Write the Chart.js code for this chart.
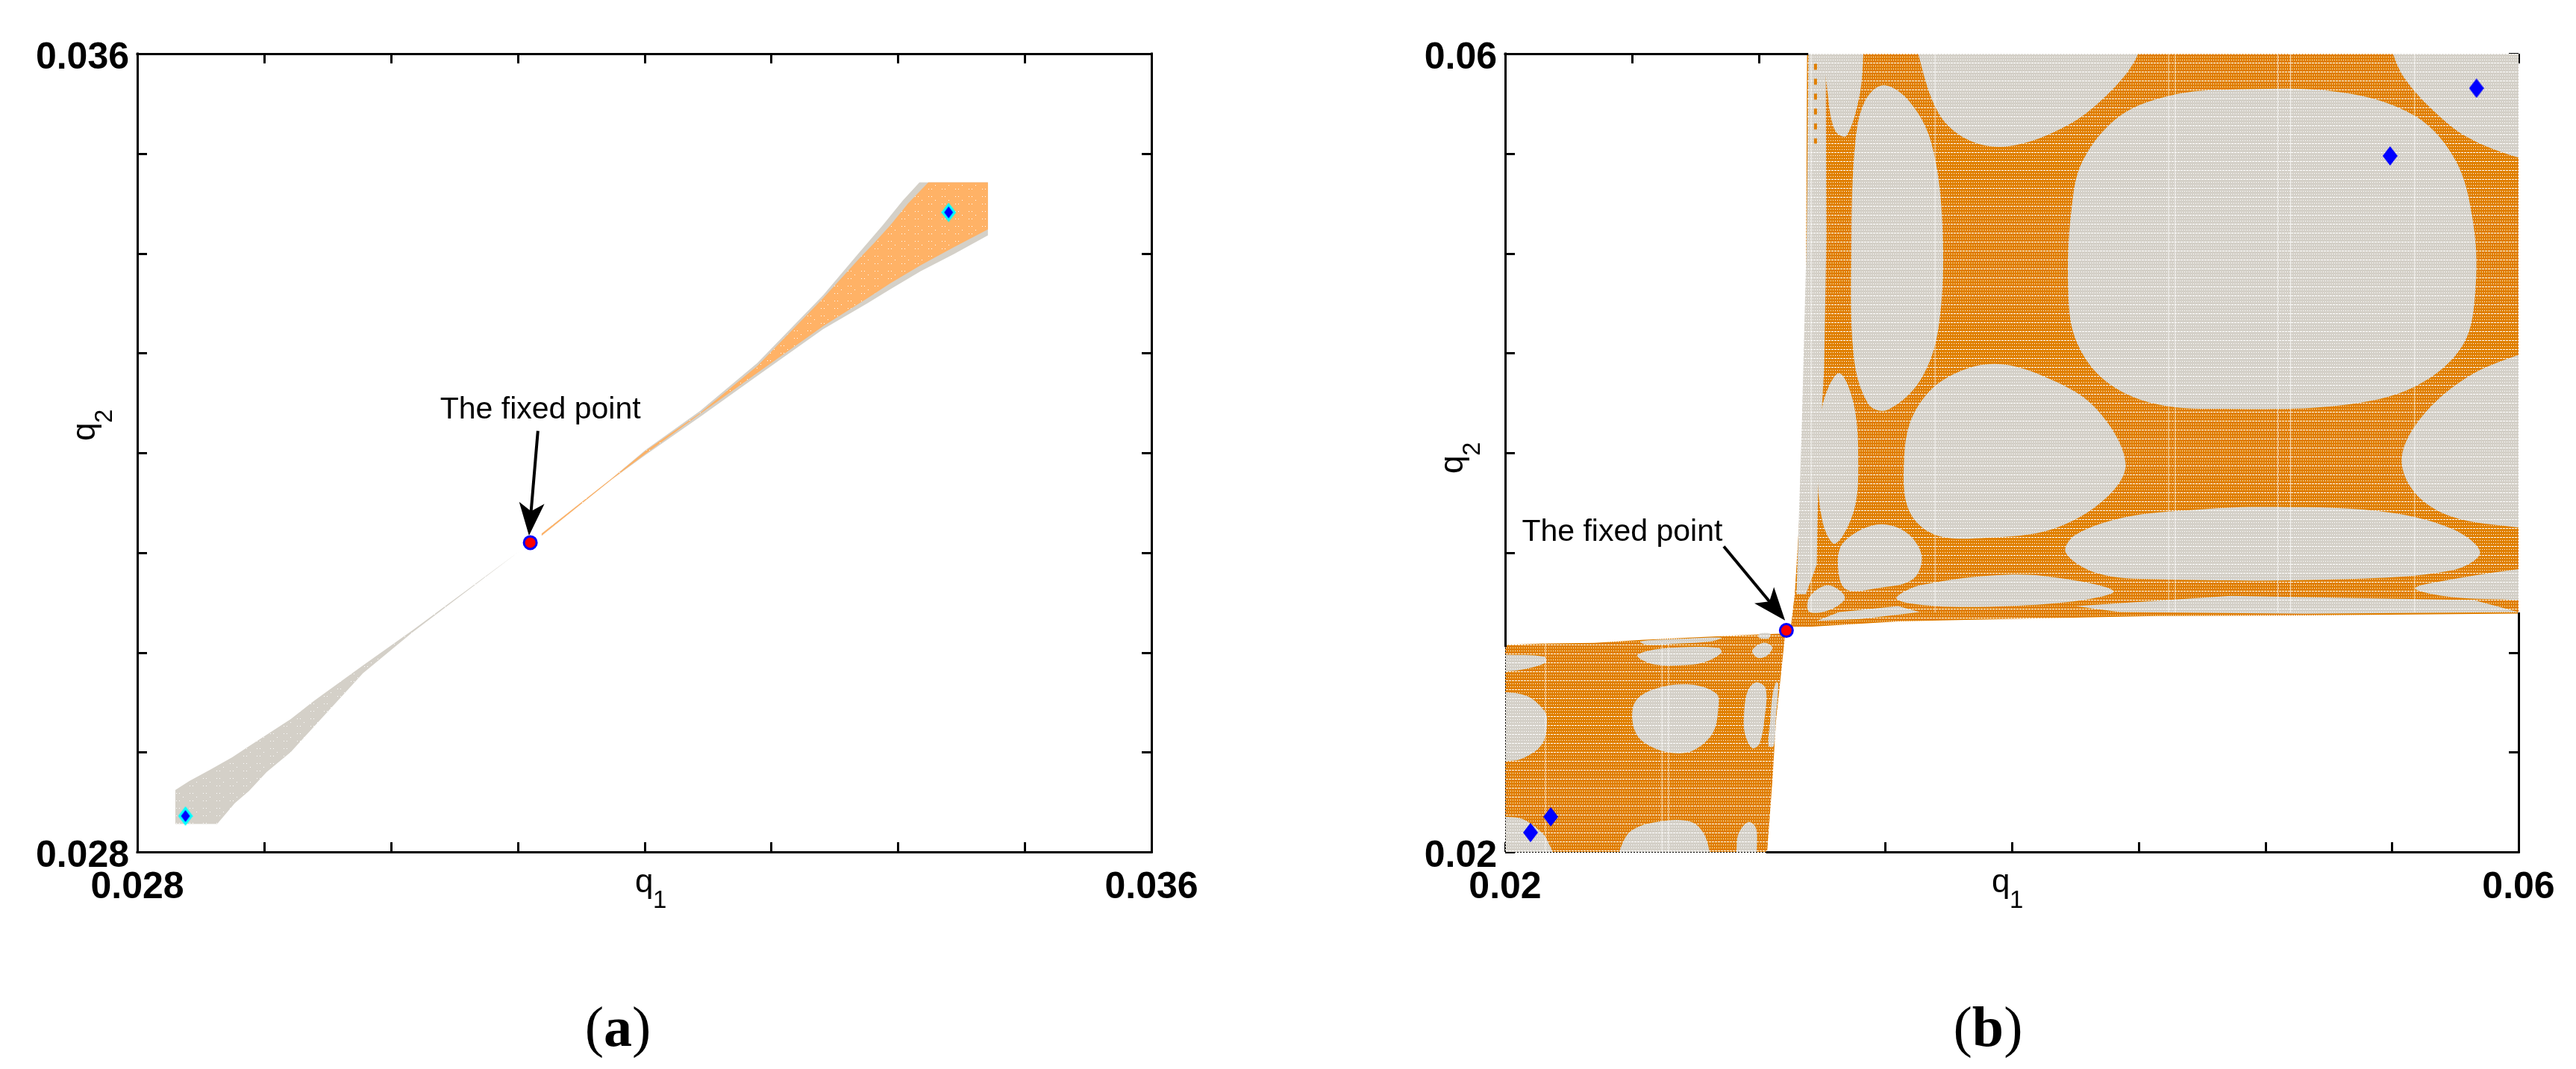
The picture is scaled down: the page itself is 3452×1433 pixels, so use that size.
<!DOCTYPE html>
<html>
<head>
<meta charset="utf-8">
<script src="https://cdn.jsdelivr.net/npm/chart.js@4"></script>
<style>
  html, body { margin: 0; padding: 0; background: #fff; overflow: hidden; }
  canvas { position: absolute; top: 0; }
</style>
</head>
<body>
<canvas id="panelA" width="1726" height="1433" style="left:0"></canvas>
<canvas id="panelB" width="1726" height="1433" style="left:1726px"></canvas>
<script>
// all q values are in units of 1e-3, so 31.1 means q = 0.0311

// panel (a)
const aTicks = ['0.028', '0.036'];
const aGrayWedge = [[28.30,28.62],[28.41,28.71],[28.57,28.82],[28.75,28.95],[28.87,29.05],[29.21,29.33],[29.39,29.51],[29.78,29.87],[30.17,30.22],[31.01,31.01],[30.17,30.20],[29.78,29.79],[29.39,29.25],[29.21,29.00],[29.02,28.80],[28.88,28.61],[28.77,28.49],[28.63,28.28],[28.30,28.28]];
const aGrayEdge = [[31.19,31.19],[31.74,31.74],[32.01,32.03],[32.44,32.42],[32.89,32.90],[33.41,33.58],[33.69,34.00],[33.88,34.28],[34.04,34.53],[34.17,34.71],[34.71,34.71],[34.71,34.18],[34.44,33.99],[34.18,33.82],[33.94,33.64],[33.76,33.50],[33.41,33.24],[32.89,32.77],[32.44,32.36],[32.01,31.98],[31.74,31.73],[31.19,31.17]];
const aOrangeWedge = [[31.19,31.19],[31.74,31.74],[32.01,32.02],[32.44,32.40],[32.89,32.87],[33.41,33.55],[33.69,33.94],[33.81,34.10],[33.94,34.28],[34.08,34.50],[34.24,34.71],[34.71,34.71],[34.71,34.24],[34.44,34.06],[34.18,33.88],[33.94,33.70],[33.76,33.55],[33.41,33.27],[32.89,32.80],[32.44,32.39],[32.01,31.99],[31.74,31.73],[31.19,31.17]];
const aFixedPoint = [[31.10,31.10]];
const aDiamonds = [[34.40,34.41],[28.38,28.36]];
const aArrow = { from: [31.16,32.22], to: [31.09,31.17] };
const aNote = [31.18,32.45];

// panel (b)
const bTicks = ['0.02', '0.06'];
const bUpperRegion = [[31.92,61],[61,61],[61,31.94],[60,31.94],[51.55,31.85],[45.71,31.82],[39.88,31.67],[35.51,31.55],[32.01,31.28],[31.28,31.28],[31.43,32.92],[31.72,38.87],[31.87,47.80]];
const bLowerRegion = [[19,19],[30.34,19],[30.34,20],[30.55,23.59],[30.69,26.55],[30.90,29.06],[31.05,30.90],[30.78,30.93],[29.13,30.85],[25.39,30.63],[23.53,30.48],[21.41,30.44],[19,30.33]];
const bCenterBlob = [[48.63,58.21],[53.00,58.07],[55.92,56.88],[57.52,54.64],[58.19,51.67],[58.31,48.39],[57.81,45.42],[55.92,43.33],[53.00,42.38],[48.63,42.20],[45.71,42.44],[43.67,43.63],[42.51,45.71],[42.22,48.39],[42.36,52.26],[42.80,54.64],[44.26,56.88],[46.30,57.92]];
const bTopBlob = [[36.00,62],[45.30,62],[44.99,60],[43.97,58.21],[42.22,56.43],[39.88,55.36],[38.28,55.68],[37.11,57.02],[36.30,60]];
const bCornerBlob = [[54.80,61],[55.04,60],[55.48,58.81],[56.50,57.32],[57.96,55.83],[60,54.79],[62,54.20],[62,62]];
const bRightBlob = [[62,45.60],[60,44.91],[57.96,43.78],[56.21,41.85],[55.39,39.76],[55.92,37.98],[57.38,36.79],[60,36.25],[62,36.00],[64,40]];
const bMiddleBlob = [[39.30,44.46],[41.63,43.63],[43.38,42.14],[44.49,39.46],[43.67,37.68],[41.63,36.19],[39.01,35.74],[36.97,35.89],[35.95,37.08],[35.74,39.46],[36.09,41.85],[37.26,43.63]];
const bTallBlob = [[34.93,58.42],[35.95,57.62],[36.82,55.54],[37.26,51.37],[37.11,46.31],[36.38,43.63],[35.07,42.14],[34.34,42.44],[33.76,44.82],[33.67,50.77],[33.82,55.54],[34.20,57.62]];
const bNarrowTop = [[32.60,62],[34.20,62],[34.14,60],[33.99,57.92],[33.47,55.89],[33.03,56.13],[32.74,57.92]];
const bNarrowBlob = [[33.18,43.99],[33.76,42.44],[33.94,39.46],[33.76,37.08],[33.03,35.45],[32.54,36.49],[32.33,39.46],[32.54,42.44]];
const bSmallBlob = [[34.64,36.40],[35.80,36.04],[36.44,34.85],[36.09,33.66],[34.64,33.21],[33.47,33.15],[33.15,34.11],[33.32,35.45]];
const bFlatBlob = [[49.80,37.29],[54.46,37.08],[57.38,36.19],[58.48,35.00],[57.38,34.11],[53.00,33.66],[45.71,33.66],[43.38,33.96],[42.13,35.00],[42.51,35.89],[44.55,36.79],[47.17,37.14]];
const bFlatRight = [[62,34.40],[60,34.17],[57.38,33.66],[55.92,33.21],[57.38,32.77],[60,32.62],[62,32.40],[64,33.5]];
const bLowFlat = [[39.88,33.90],[42.22,33.66],[44.02,33.07],[42.80,32.62],[39.88,32.32],[36.97,32.32],[35.45,32.68],[36.38,33.36]];
const bCornerDot = [[32.74,33.36],[33.41,32.77],[32.89,32.17],[32.01,32.02],[32.01,32.77]];
const bSliverLeft = [[33.18,32.02],[35.51,32.32],[36.38,32.02],[34.05,31.67],[32.30,31.58]];
const bSliverRight = [[42.51,32.32],[48.63,32.83],[58.25,32.62],[60,32.02],[51.55,31.93],[44.26,32.02]];
const bLeftStrip = [[31.98,61],[32.65,61],[32.68,50.77],[32.59,44.23],[32.36,38.87],[32.30,34.40],[31.87,32.92],[31.50,32.92],[31.72,41.85],[31.90,50.77]];
const bStripDashes = [[32.25,59.5,55.5]];
const bLowA = [[19,29.88],[20,29.88],[21.53,29.79],[21.60,29.49],[20.64,29.13],[20,29.05],[19,29.05]];
const bLowB = [[18,28.10],[20,28.01],[20.88,27.80],[21.47,27.19],[21.65,26.70],[21.47,25.43],[20.68,24.68],[20,24.55],[18,24.40],[17,26]];
const bLowC = [[27.36,28.38],[28.34,27.93],[28.42,27.30],[28.19,25.95],[27.36,25.05],[26.36,25.01],[25.39,25.58],[25.04,26.44],[25.15,27.56],[25.98,28.20]];
const bLowD = [[26.86,30.25],[28.42,30.22],[28.54,29.99],[27.95,29.54],[27.16,29.36],[25.89,29.39],[25.21,29.81],[25.60,30.07]];
const bLowE = [[30.19,30.48],[30.55,30.25],[30.31,29.81],[29.96,29.73],[29.75,30.10]];
const bLowF = [[29.90,28.50],[30.28,28.20],[30.25,26.81],[30.04,25.43],[29.75,25.20],[29.46,25.95],[29.43,26.92],[29.57,28.05]];
const bLowG = [[24.20,18],[24.51,20],[25.01,21.09],[26.36,21.57],[27.36,21.50],[27.83,20.94],[28.07,20],[28.30,18]];
const bLowH = [[29.10,18],[29.13,20],[29.22,20.94],[29.60,21.50],[29.90,21.20],[29.93,20],[29.95,18]];
const bLowI = [[18,21.80],[20,21.76],[20.68,21.65],[21.47,20.94],[21.71,20.45],[21.86,20],[22.10,18],[18,18]];
const bLowJ = [[25.33,30.55],[26.86,30.67],[28.54,30.74],[28.13,30.55],[26.86,30.44],[25.60,30.37]];
const bLowK = [[30.69,28.50],[30.78,28.42],[30.69,26.81],[30.60,25.31],[30.40,25.31],[30.46,26.55],[30.55,27.82]];
const bLowDash = [[30.04,30.93],[30.46,30.93],[30.40,30.70],[30.01,30.74]];
const bUpperStreaks = [32.08, 36.97, 46.19, 46.45, 50.50, 51.00, 55.90];
const bLowerStreaks = [21.59, 26.19, 26.45];
const bFixedPoint = [[31.10,31.10]];
const bDiamonds = [[58.34,58.27],[54.93,54.88],[21.80,21.76],[21.00,20.97]];
const bArrow = { from: [28.63,35.31], to: [31.05,31.60] };
const bNote = [24.62,36.13];

const GRAY = '#d4d0c8', LIGHT_ORANGE = '#ffb266', DARK_ORANGE = '#e07f00';

// tile with the white speckle the raster plots have
function speckle(base, dots) {
  const tile = document.createElement('canvas');
  tile.width = dots.w; tile.height = dots.h;
  const c = tile.getContext('2d');
  c.fillStyle = base;
  c.fillRect(0, 0, tile.width, tile.height);
  c.fillStyle = '#fff';
  dots.at.forEach(d => c.fillRect(d[0], d[1], d[2] || 1, 1));
  return c.createPattern(tile, 'repeat');
}
const sparse = { w: 18, h: 20, at: [[2,3],[6,3],[2,13],[6,13],[11,8]] };
const dense = { w: 12, h: 12, at: [[0,0,3],[4,0,3],[8,0,3],[1,4],[4,4],[7,4],[10,4],[1,8],[4,8],[7,8],[10,8]] };

function diamond(outer, hw, hh, inner, ihw, ihh) {
  const cv = document.createElement('canvas');
  cv.width = hw * 2; cv.height = hh * 2;
  const c = cv.getContext('2d');
  const shape = (w, h, col) => {
    c.fillStyle = col;
    c.beginPath();
    c.moveTo(hw, hh - h); c.lineTo(hw + w, hh); c.lineTo(hw, hh + h); c.lineTo(hw - w, hh);
    c.closePath(); c.fill();
  };
  shape(hw, hh, outer);
  if (inner) shape(ihw, ihh, inner);
  return cv;
}

const toPoints = pts => pts.map(p => ({ x: p[0], y: p[1] }));

function region(pts, color, tension) {
  // smooth outlines wrap past their start so the curve has no kink there
  const ring = tension ? [pts[pts.length - 1], ...pts, pts[0], pts[1]] : pts.concat([pts[0]]);
  return {
    data: toPoints(ring),
    showLine: true, fill: 'shape', backgroundColor: color,
    borderColor: 'rgba(0,0,0,0)', borderWidth: 0, pointRadius: 0, tension: tension || 0
  };
}
function streak(q1, from, to) {
  return {
    data: [{ x: q1, y: from }, { x: q1, y: to }],
    showLine: true, borderColor: 'rgba(255,255,255,0.75)', borderWidth: 1, pointRadius: 0, fill: false
  };
}
function dashes(d) {
  return {
    data: [{ x: d[0], y: d[1] }, { x: d[0], y: d[2] }],
    showLine: true, borderColor: DARK_ORANGE, borderWidth: 4, borderDash: [8, 12], pointRadius: 0, fill: false
  };
}
function markers(pts, style, radius, bg, border, bw) {
  return {
    data: toPoints(pts), showLine: false, pointStyle: style, pointRadius: radius,
    pointBackgroundColor: bg, pointBorderColor: border, pointBorderWidth: bw
  };
}

// frame and inward ticks go under the data, the rasters hide them
const framePlugin = {
  id: 'frame',
  beforeDatasetsDraw(chart, args, o) {
    const { ctx } = chart, x = chart.scales.x, y = chart.scales.y;
    const a = chart.chartArea;
    ctx.save();
    ctx.strokeStyle = '#000';
    ctx.lineWidth = 3;
    ctx.beginPath();
    x.ticks.forEach(t => {
      const px = Math.round(x.getPixelForValue(t.value)) + 0.5;
      ctx.moveTo(px, a.bottom); ctx.lineTo(px, a.bottom - 13);
      ctx.moveTo(px, a.top); ctx.lineTo(px, a.top + 13);
    });
    y.ticks.forEach(t => {
      const py = Math.round(y.getPixelForValue(t.value)) + 0.5;
      ctx.moveTo(a.left, py); ctx.lineTo(a.left + 13, py);
      ctx.moveTo(a.right, py); ctx.lineTo(a.right - 13, py);
    });
    ctx.stroke();
    ctx.restore();
  },
  afterDatasetsDraw(chart, args, o) {
    const { ctx } = chart, x = chart.scales.x, y = chart.scales.y;
    ctx.save();
    ctx.strokeStyle = '#000';
    ctx.lineWidth = 3;
    ctx.lineCap = 'square';
    const hl = (q, v) => { ctx.moveTo(x.getPixelForValue(q[0]), y.getPixelForValue(v) + 0.5); ctx.lineTo(x.getPixelForValue(q[1]), y.getPixelForValue(v) + 0.5); };
    const vl = (q, v) => { ctx.moveTo(x.getPixelForValue(v) + 0.5, y.getPixelForValue(q[0])); ctx.lineTo(x.getPixelForValue(v) + 0.5, y.getPixelForValue(q[1])); };
    ctx.beginPath();
    hl(o.top, y.max); hl(o.bottom, y.min);
    vl(o.left, x.min); vl(o.right, x.max);
    ctx.stroke();
    ctx.lineCap = 'butt';
    if (o.dottedBottom) {
      ctx.lineWidth = 1;
      ctx.setLineDash([2, 2]);
      ctx.beginPath();
      hl(o.dottedBottom, y.min);
      vl(o.dottedLeft, x.min);
      ctx.stroke();
    }
    ctx.restore();
  }
};

// arrow, note, axis names and the panel letter
const notePlugin = {
  id: 'notes',
  afterDraw(chart, args, o) {
    const { ctx } = chart, x = chart.scales.x, y = chart.scales.y;
    const tail = [x.getPixelForValue(o.arrow.from[0]), y.getPixelForValue(o.arrow.from[1])];
    const tip = [x.getPixelForValue(o.arrow.to[0]), y.getPixelForValue(o.arrow.to[1])];
    const ang = Math.atan2(tip[1] - tail[1], tip[0] - tail[0]);
    ctx.save();
    ctx.translate(tip[0], tip[1]);
    ctx.rotate(ang);
    const len = Math.hypot(tip[0] - tail[0], tip[1] - tail[1]);
    ctx.fillStyle = '#000';
    ctx.fillRect(-len, -2, len - 30, 4);
    ctx.beginPath();
    ctx.moveTo(0, 0); ctx.lineTo(-44, -17); ctx.lineTo(-33, 0); ctx.lineTo(-44, 17);
    ctx.closePath(); ctx.fill();
    ctx.restore();

    ctx.save();
    ctx.fillStyle = '#000';
    ctx.textBaseline = 'alphabetic';
    ctx.textAlign = 'center';
    ctx.font = '41px "Liberation Sans"';
    ctx.fillText('The fixed point', x.getPixelForValue(o.note[0]), y.getPixelForValue(o.note[1]) + 14);

    ctx.textAlign = 'left';
    ctx.font = '44px "Liberation Sans"';
    ctx.fillText('q', o.xName[0], o.xName[1]);
    ctx.font = '33px "Liberation Sans"';
    ctx.fillText('1', o.xName[0] + 24, o.xName[1] + 21);

    ctx.save();
    ctx.translate(o.yName[0], o.yName[1]);
    ctx.rotate(-Math.PI / 2);
    ctx.font = '44px "Liberation Sans"';
    ctx.fillText('q', 0, 0);
    ctx.font = '33px "Liberation Sans"';
    ctx.fillText('2', 24, 23);
    ctx.restore();

    // the letter is bold, the brackets are not
    const open = '(', close = ')';
    ctx.font = '76px "Liberation Serif"';
    const wp = ctx.measureText(open).width;
    ctx.font = 'bold 76px "Liberation Serif"';
    const wl = ctx.measureText(o.letter).width;
    let px = o.letterAt[0] - (wp * 2 + wl) / 2;
    ctx.font = '76px "Liberation Serif"';
    ctx.fillText(open, px, o.letterAt[1]);
    ctx.fillText(close, px + wp + wl, o.letterAt[1]);
    ctx.font = 'bold 76px "Liberation Serif"';
    ctx.fillText(o.letter, px + wp, o.letterAt[1]);
    ctx.restore();
  }
};

function buildPanel(id, cfg) {
  const sets = cfg.datasets.map((d, i) => Object.assign(d, { order: cfg.datasets.length - i }));
  const tickLabel = (labels, min, max) => v => v === min ? labels[0] : v === max ? labels[1] : '';
  const tickFont = { family: '"Liberation Sans"', size: 50, weight: 'bold' };
  const a = cfg.area;
  return new Chart(document.getElementById(id), {
    type: 'scatter',
    data: { datasets: sets },
    plugins: [framePlugin, notePlugin],
    options: {
      responsive: false,
      animation: false,
      events: [],
      layout: { padding: { left: 0, top: a.top, right: 1726 - a.right, bottom: 0 } },
      scales: {
        x: {
          type: 'linear', min: cfg.range[0], max: cfg.range[1],
          grid: { display: false, drawTicks: false }, border: { display: false },
          afterFit(s) { s.height = 1433 - a.bottom; },
          afterBuildTicks(s) { s.ticks = cfg.steps.map(v => ({ value: v })); },
          ticks: { autoSkip: false, maxRotation: 0, padding: 18, color: '#000', font: tickFont, callback: tickLabel(cfg.labels, cfg.range[0], cfg.range[1]) }
        },
        y: {
          type: 'linear', min: cfg.range[0], max: cfg.range[1],
          grid: { display: false, drawTicks: false }, border: { display: false },
          afterFit(s) { s.width = a.left; },
          afterBuildTicks(s) { s.ticks = cfg.steps.map(v => ({ value: v })); },
          ticks: { autoSkip: false, padding: 11, labelOffset: 6, color: '#000', font: tickFont, callback: tickLabel(cfg.labels, cfg.range[0], cfg.range[1]) }
        }
      },
      plugins: {
        legend: { display: false }, tooltip: { enabled: false }, title: { display: false },
        frame: cfg.frame,
        notes: cfg.notes
      }
    }
  });
}

const aGray = speckle(GRAY, sparse), aOrange = speckle(LIGHT_ORANGE, sparse);
const bGray = speckle(GRAY, dense), bOrange = speckle(DARK_ORANGE, dense);

buildPanel('panelA', {
  area: { left: 184, top: 72, right: 1543, bottom: 1142 },
  range: [28, 36], steps: [28,29,30,31,32,33,34,35,36], labels: aTicks,
  frame: { top: [28,36], bottom: [28,36], left: [28,36], right: [28,36] },
  notes: { arrow: aArrow, note: aNote, xName: [851,1196], yName: [127,591], letter: 'a', letterAt: [828,1402] },
  datasets: [
    region(aGrayWedge, aGray),
    region(aGrayEdge, GRAY),
    region(aOrangeWedge, aOrange),
    markers(aDiamonds, diamond('#00ffff', 10, 13, '#0000ff', 6, 8), 10),
    markers(aFixedPoint, 'circle', 8.5, '#ff0000', '#0000ff', 3)
  ]
});

const blobs = [bCenterBlob, bTopBlob, bCornerBlob, bRightBlob, bMiddleBlob, bTallBlob, bNarrowTop, bNarrowBlob, bSmallBlob, bFlatBlob, bFlatRight, bLowFlat, bCornerDot];
const lowBlobs = [bLowA, bLowB, bLowC, bLowD, bLowE, bLowF, bLowG, bLowH, bLowI, bLowJ, bLowK, bLowDash];

buildPanel('panelB', {
  area: { left: 291, top: 72, right: 1649, bottom: 1142 },
  range: [20, 60], steps: [20,25,30,35,40,45,50,55,60], labels: bTicks,
  frame: { top: [20,31.92], bottom: [30.34,60], left: [30.33,60], right: [20,31.94], dottedBottom: [20,30.34], dottedLeft: [20,30.33] },
  notes: { arrow: bArrow, note: bNote, xName: [943,1196], yName: [234,635], letter: 'b', letterAt: [938,1402] },
  datasets: [
    region(bUpperRegion, bOrange),
    region(bLowerRegion, bOrange),
    region(bLeftStrip, bGray),
    ...bStripDashes.map(dashes),
    region(bSliverLeft, bGray),
    region(bSliverRight, bGray),
    ...blobs.map(b => region(b, bGray, 0.35)),
    ...lowBlobs.map(b => region(b, bGray, 0.35)),
    ...bUpperStreaks.map(q => streak(q, 32, 60)),
    ...bLowerStreaks.map(q => streak(q, 20, 30.5)),
    markers(bDiamonds, diamond('#0000ff', 10, 13), 10),
    markers(bFixedPoint, 'circle', 8.5, '#ff0000', '#0000ff', 3)
  ]
});
</script>
</body>
</html>
